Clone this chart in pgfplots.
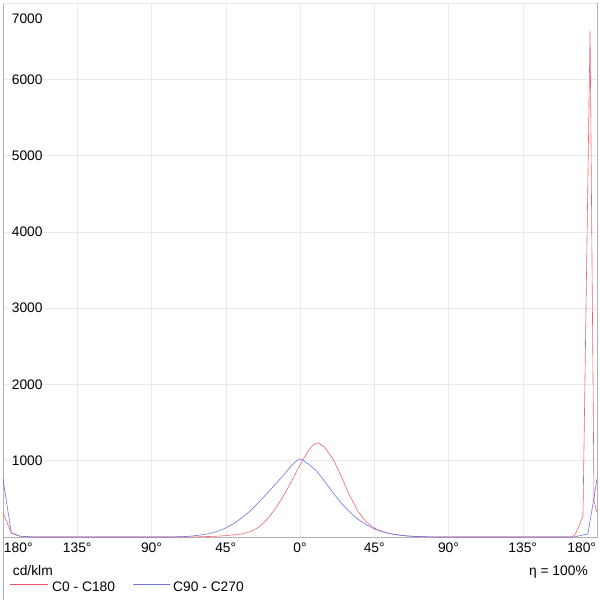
\documentclass[border=0pt]{standalone}
\usepackage{fontspec}
\setmainfont{Liberation Sans}
\usepackage{pgfplots}
\pgfplotsset{compat=1.18}
\definecolor{cred}{RGB}{238,100,110}
\definecolor{cblue}{RGB}{115,115,232}
\definecolor{gridc}{RGB}{234,234,234}
\definecolor{framec}{RGB}{178,178,178}
\begin{document}
\begin{tikzpicture}
\useasboundingbox (-3pt,-63pt) rectangle (597pt,537pt);
\begin{axis}[
  at={(0,0)}, anchor=south west,
  scale only axis, width=594pt, height=534pt,
  xmin=-180, xmax=180, ymin=0, ymax=7000,
  clip=false,
  axis line style={framec, line width=0.6pt},
  xtick={-180,-135,-90,-45,0,45,90,135,180},
  xticklabels={\makebox[0pt][l]{\hspace{1pt}180°},135°,90°,45°,0°,45°,90°,135°,\makebox[0pt][r]{180°\hspace{1pt}}},
  ytick={1000,2000,3000,4000,5000,6000},
  yticklabels={1000,2000,3000,4000,5000,6000},
  extra y ticks={7000}, extra y tick labels={7000},
  extra y tick style={yticklabel style={yshift=-15.5pt}},
  major tick length=0pt,
  grid=major, grid style={gridc, line width=0.5pt},
  tick label style={font=\fontsize{13.8}{15}\selectfont},
  yticklabel style={anchor=west, xshift=5.3pt},
  xticklabel style={anchor=north, yshift=-2.3pt},
]
\addplot[cred, line width=0.6pt, no markers] coordinates {
(-180,320) (-175,55) (-170,12) (-165,4) (-160,0) (-150,0) (-140,0) (-130,0) (-120,0) (-110,0) (-100,0) (-90,0) (-80,0) (-70,0)
(-60,3) (-55,7) (-50,11) (-45,18) (-40,28) (-35,42) (-30,70) (-25,128) (-20,230) (-15,370) (-10,540) (-5,735) (0,945)
(5,1130) (8,1210) (11,1235) (15,1175) (20,1025) (25,795) (30,550) (35,340) (40,200) (45,118) (50,70) (55,42) (60,25)
(65,14) (70,8) (75,4) (80,1) (90,0) (100,0) (110,0) (120,0) (130,0) (140,0) (150,0) (160,0) (165,0)
(167,40) (171.5,275) (175.8,6640) (178.2,470) (180,320)
};
\addplot[cblue, line width=0.6pt, no markers] coordinates {
(-180,760) (-175,55) (-170,12) (-165,3) (-160,0) (-150,0) (-140,0) (-130,0) (-120,0) (-110,0) (-100,0) (-90,0) (-80,0)
(-75,2) (-70,6) (-65,14) (-60,27) (-55,45) (-50,74) (-45,118) (-40,178) (-35,255) (-30,345) (-25,455) (-20,570)
(-15,690) (-10,810) (-5,940) (-2,1000) (0,1025) (2,1005) (5,958) (10,868) (15,727) (20,580) (25,445) (30,330)
(35,235) (40,162) (45,105) (50,68) (55,42) (60,25) (65,13) (70,7) (75,3) (80,0) (90,0) (100,0) (110,0) (120,0)
(130,0) (140,0) (150,0) (160,0) (166,0) (174.5,40) (180,760)
};
\end{axis}
\draw[framec, line width=0.6pt] (0,0) -- (0,-63pt);
\node[anchor=base west, inner sep=0, font=\fontsize{13.8}{15}\selectfont] at (9.7pt,-38pt) {cd/klm};
\node[anchor=base east, inner sep=0, font=\fontsize{13.8}{15}\selectfont] at (585pt,-38pt) {η = 100\%};
\draw[color={rgb,255:red,238;green,90;blue,100}, line width=0.8pt] (7pt,-47.6pt) -- (45pt,-47.6pt);
\node[anchor=base west, inner sep=0, font=\fontsize{13.8}{15}\selectfont] at (49pt,-54pt) {C0 - C180};
\draw[color={rgb,255:red,115;green,115;blue,232}, line width=0.8pt] (130pt,-47.6pt) -- (167pt,-47.6pt);
\node[anchor=base west, inner sep=0, font=\fontsize{13.8}{15}\selectfont] at (170pt,-54pt) {C90 - C270};
\end{tikzpicture}
\end{document}
